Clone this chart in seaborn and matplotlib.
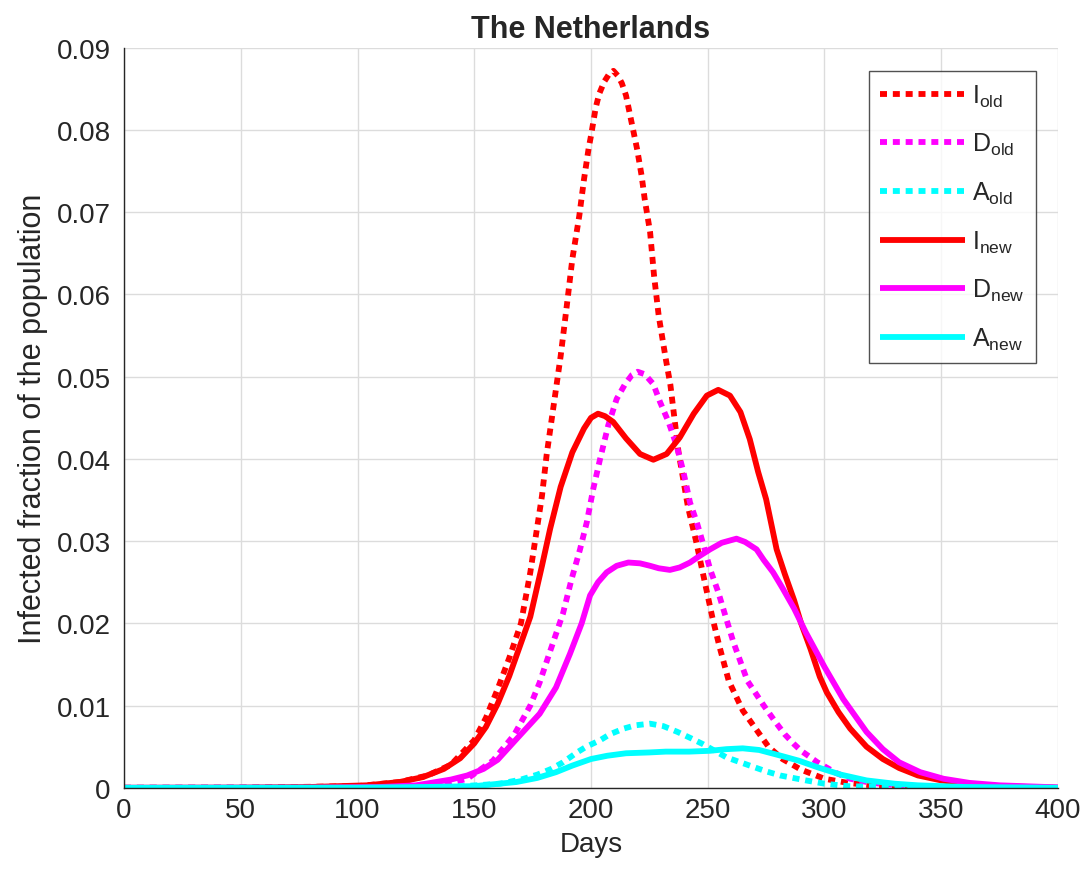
import matplotlib
matplotlib.use("Agg")
import matplotlib.pyplot as plt
import seaborn as sns

# Values (days, infected fraction)
i_old_days = [0, 50, 100, 118, 130, 140, 150, 155, 160, 165, 170, 174, 177, 179, 181, 184, 187, 190, 192, 195,
              197, 199, 200, 202, 203.5, 205.7, 207.5, 209.6, 211.5, 213.2, 215, 217.4, 219.8, 221.7, 223,
              225.3, 227, 229, 232, 234, 237.5, 241.5, 245, 249.5, 252, 255, 259, 265, 271, 276, 282, 290,
              300, 310, 320, 340, 360, 400]
i_old_vals = [0, 0.00001, 0.0002, 0.0007, 0.0015, 0.0028, 0.0058, 0.0085, 0.0120, 0.0158, 0.0200, 0.0262,
              0.0318, 0.0355, 0.0405, 0.0465, 0.0525, 0.0595, 0.0643, 0.0696, 0.0740, 0.0778, 0.0793, 0.0827,
              0.0844, 0.0859, 0.0867, 0.0872, 0.0866, 0.0857, 0.0842, 0.0809, 0.0776, 0.0744, 0.0716, 0.0676,
              0.0623, 0.0574, 0.0522, 0.0490, 0.0408, 0.0342, 0.0300, 0.0240, 0.0207, 0.0172, 0.0130, 0.0094,
              0.0070, 0.0050, 0.0035, 0.0022, 0.0011, 0.0006, 0.0003, 0.0001, 0.00003, 0]

d_old_days = [0, 100, 125, 140, 147, 158, 167, 174, 178, 182, 188, 191.7, 195.3, 198.2, 201, 203.9, 207.4,
              211, 214.6, 217.5, 220, 223, 226.7, 229.6, 233.2, 236.7, 239.6, 242.4, 245.3, 248.2, 251,
              254.5, 258, 261, 267, 274, 279, 283, 287, 290, 297, 305, 311, 320, 332, 350, 400]
d_old_vals = [0, 0.00005, 0.0002, 0.0006, 0.0011, 0.0033, 0.0064, 0.0100, 0.0128, 0.0162, 0.0212, 0.0254,
              0.0290, 0.0323, 0.0364, 0.0400, 0.0441, 0.0473, 0.0491, 0.0502, 0.0506, 0.0503, 0.0491, 0.0469,
              0.0445, 0.0416, 0.0384, 0.0347, 0.0323, 0.0295, 0.0266, 0.0238, 0.0205, 0.0177, 0.0130, 0.0100,
              0.0080, 0.0065, 0.0053, 0.0045, 0.0031, 0.0018, 0.0011, 0.0006, 0.0003, 0.0001, 0]

a_old_days = [0, 120, 140, 161, 170, 177, 183, 188, 194, 198, 204, 208, 214, 219, 225.3, 231, 237, 243, 248,
              253, 258, 264, 270, 275, 281, 292, 300, 310, 330, 400]
a_old_vals = [0, 0.00002, 0.0001, 0.0005, 0.0010, 0.0016, 0.0023, 0.0031, 0.0043, 0.0050, 0.0058, 0.0065,
              0.0072, 0.0076, 0.0078, 0.0075, 0.0068, 0.0060, 0.0053, 0.0045, 0.0037, 0.0031, 0.0025, 0.0020,
              0.0015, 0.0009, 0.0005, 0.0002, 0.00005, 0]

i_new_days = [0, 50, 80, 104, 118, 128, 137, 144, 150, 155, 160, 165, 170, 174, 179, 182.5, 187, 192, 197,
              200, 203, 206, 209.5, 215, 221, 226.7, 232.4, 238, 244, 249.6, 254.5, 259.5, 264, 268, 271.6,
              275, 279.5, 283, 287, 290, 294, 298, 301, 306, 311, 318, 325, 332, 340, 350, 361, 375, 400]
i_new_vals = [0, 0.00002, 0.0001, 0.0003, 0.0007, 0.0013, 0.0023, 0.0036, 0.0054, 0.0074, 0.0102, 0.0136,
              0.0176, 0.0208, 0.0270, 0.0315, 0.0366, 0.0408, 0.0437, 0.0450, 0.0455, 0.0452, 0.0445, 0.0425,
              0.0406, 0.0399, 0.0406, 0.0426, 0.0455, 0.0477, 0.0484, 0.0477, 0.0457, 0.0424, 0.0384, 0.0351,
              0.0290, 0.0260, 0.0228, 0.0200, 0.0169, 0.0135, 0.0116, 0.0092, 0.0072, 0.0050, 0.0035, 0.0024,
              0.0015, 0.0009, 0.0005, 0.0002, 0]

d_new_days = [0, 80, 110, 125, 140, 147, 154, 160, 168, 178, 185, 191, 196, 199.6, 203, 206.7, 211, 216,
              221, 225.3, 229, 233.8, 238, 242.4, 246, 251, 256, 262.3, 266, 270.9, 274, 278, 282, 287, 292,
              300, 308, 318, 325, 332, 341, 351, 362, 375, 400]
d_new_vals = [0, 0.00002, 0.0001, 0.0003, 0.0010, 0.0015, 0.0023, 0.0034, 0.0059, 0.0090, 0.0122, 0.0163,
              0.0200, 0.0234, 0.0250, 0.0262, 0.0270, 0.0274, 0.0273, 0.0270, 0.0267, 0.0265, 0.0268, 0.0274,
              0.0281, 0.0290, 0.0298, 0.0303, 0.0299, 0.0290, 0.0277, 0.0262, 0.0243, 0.0218, 0.0189, 0.0147,
              0.0108, 0.0068, 0.0047, 0.0031, 0.0019, 0.0011, 0.0006, 0.0003, 0.00005]

a_new_days = [0, 100, 130, 150, 168, 177, 185, 192, 200, 207, 215, 225, 232, 242, 251, 258, 265, 272, 280,
              289, 297, 307, 318, 330, 340, 360, 400]
a_new_vals = [0, 0.00002, 0.0001, 0.0002, 0.0007, 0.0012, 0.0019, 0.0027, 0.0035, 0.0039, 0.0042, 0.0043,
              0.0044, 0.0044, 0.0045, 0.0047, 0.0048, 0.0046, 0.0040, 0.0033, 0.0025, 0.0016, 0.0009, 0.0005,
              0.0003, 0.0001, 0]

x_ticks = [0, 50, 100, 150, 200, 250, 300, 350, 400]
y_ticks = [0, 0.01, 0.02, 0.03, 0.04, 0.05, 0.06, 0.07, 0.08, 0.09]
y_tick_labels = ["0", "0.01", "0.02", "0.03", "0.04", "0.05", "0.06", "0.07", "0.08", "0.09"]

sns.set_style("white")
plt.rcParams["font.family"] = ["Liberation Sans", "DejaVu Sans"]

fig = plt.figure(figsize=(10.88, 8.78), dpi=100)
ax = fig.add_axes([0.114, 0.1016, 0.8584, 0.8428])

dot = (0, (1.2, 1.0))
series = [
    (i_old_days, i_old_vals, "#ff0000", dot, r"$\mathregular{I_{old}}$"),
    (d_old_days, d_old_vals, "#ff00ff", dot, r"$\mathregular{D_{old}}$"),
    (a_old_days, a_old_vals, "#00ffff", dot, r"$\mathregular{A_{old}}$"),
    (i_new_days, i_new_vals, "#ff0000", "-", r"$\mathregular{I_{new}}$"),
    (d_new_days, d_new_vals, "#ff00ff", "-", r"$\mathregular{D_{new}}$"),
    (a_new_days, a_new_vals, "#00ffff", "-", r"$\mathregular{A_{new}}$"),
]
for xs, ys, col, ls, lab in series:
    sns.lineplot(x=xs, y=ys, ax=ax, color=col, linestyle=ls, linewidth=4.2,
                 label=lab, sort=False, solid_capstyle="butt", dash_capstyle="butt",
                 solid_joinstyle="round")

ax.set_xlim(0, 400)
ax.set_ylim(0, 0.09)
ax.set_xticks(x_ticks)
ax.set_yticks(y_ticks)
ax.set_yticklabels(y_tick_labels)
ax.tick_params(direction="in", length=6, width=1, colors="#262626", labelsize=20)
ax.tick_params(axis="x", pad=6.5)
ax.tick_params(axis="y", pad=9.5)
ax.grid(True, color="#dcdcdc", linewidth=1)
for side in ["top", "right"]:
    ax.spines[side].set_visible(False)
for side in ["left", "bottom"]:
    ax.spines[side].set_color("#262626")
    ax.spines[side].set_linewidth(1)
ax.set_axisbelow(True)

ax.set_title("The Netherlands", fontsize=22, fontweight="bold", pad=8)
ax.set_xlabel("Days", fontsize=20, color="#262626", labelpad=6)
ax.set_ylabel("Infected fraction of the population", fontsize=22, color="#262626", labelpad=6)

leg = ax.legend(loc="upper right", bbox_to_anchor=(0.9764, 0.9686), fontsize=18, frameon=True,
                fancybox=False, edgecolor="#262626", handlelength=3.4, handletextpad=0.28,
                labelspacing=0.9, borderpad=0.45, borderaxespad=0)
leg.get_frame().set_linewidth(1)

fig.savefig("out.png", dpi=100)
